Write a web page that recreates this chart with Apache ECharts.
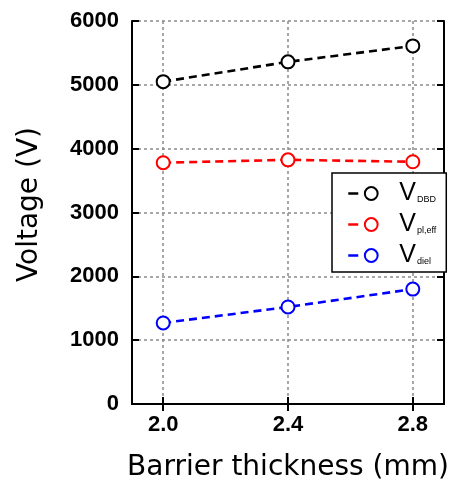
<!DOCTYPE html>
<html><head><meta charset="utf-8">
<script src="https://cdn.jsdelivr.net/npm/echarts@6/dist/echarts.min.js"></script>
<style>html,body{margin:0;padding:0;background:#fff}#c{width:453px;height:491px}</style>
</head><body><div id="c"></div>
<script>
const thickness = [2.0, 2.4, 2.8];
const vDBD = [5050, 5360, 5610];
const vPlEff = [3780, 3825, 3795];
const vDiel = [1270, 1520, 1800];
const xTicks = [2.0, 2.4, 2.8];
const seriesNames = ['DBD', 'pl,eff', 'diel'];

const chart = echarts.init(document.getElementById('c'));
const FT = '"DejaVu Sans", sans-serif';
const FA = '"Liberation Sans", Arial, sans-serif';
function mk(name, data, color) {
  return {
    name: name, type: 'line', data: thickness.map((x, i) => [x, data[i]]),
    symbol: 'emptyCircle', symbolSize: 13,
    lineStyle: {type: [8, 5], width: 2.6, color: color},
    itemStyle: {color: color, borderWidth: 2.4, borderColor: color},
    z: 5
  };
}
const line = {show: true, lineStyle: {color: '#000', width: 2}};
const tick = {show: true, inside: true, length: 7, lineStyle: {color: '#000', width: 2}};
const grid = {show: true, lineStyle: {type: [3, 3], color: '#8a8a8a', width: 1.5}};
chart.setOption({
  animation: false,
  grid: {left: 132, right: 9, top: 21, bottom: 87},
  xAxis: [
    {type: 'value', min: 1.9, max: 2.9,
      name: 'Barrier thickness (mm)', nameLocation: 'middle', nameGap: 50,
      nameTextStyle: {fontFamily: FT, fontSize: 28, color: '#000'},
      axisLine: line,
      axisLabel: {fontFamily: FA, fontWeight: 'bold', fontSize: 22, color: '#000', margin: 10,
        customValues: xTicks, formatter: v => v.toFixed(1)},
      axisTick: Object.assign({customValues: xTicks}, tick),
      splitLine: grid},
    {type: 'value', position: 'top', min: 1.9, max: 2.9,
      axisLine: line, axisLabel: {show: false},
      axisTick: Object.assign({customValues: xTicks}, tick),
      splitLine: {show: false}}
  ],
  yAxis: [
    {type: 'value', min: 0, max: 6000, interval: 1000,
      name: 'Voltage (V)', nameLocation: 'middle', nameGap: 88,
      nameTextStyle: {fontFamily: FT, fontSize: 28, color: '#000', padding: [0, 0, 0, 16]},
      axisLine: line, axisTick: tick,
      axisLabel: {fontFamily: FA, fontWeight: 'bold', fontSize: 22, color: '#000', margin: 13,
        formatter: v => String(v)},
      splitLine: grid},
    {type: 'value', position: 'right', min: 0, max: 6000, interval: 1000,
      axisLine: line, axisTick: tick, axisLabel: {show: false}, splitLine: {show: false}}
  ],
  legend: {
    orient: 'vertical', left: 332, top: 173,
    padding: [8, 10, 4, 15], itemGap: 6, itemWidth: 46, itemHeight: 16,
    backgroundColor: '#fff', borderColor: '#000', borderWidth: 1.5,
    lineStyle: {type: [10, 100], width: 2.5},
    data: seriesNames,
    formatter: n => '{v|V}{s|' + n + '}',
    textStyle: {rich: {
      v: {fontFamily: FA, fontSize: 25, lineHeight: 22, color: '#000'},
      s: {fontFamily: FA, fontSize: 9, lineHeight: 9, color: '#000', padding: [12, 0, 0, 1]}
    }}
  },
  series: seriesNames.map((n, i) => mk(n, [vDBD, vPlEff, vDiel][i], ['#000', '#f00', '#00f'][i]))
});
</script></body></html>
